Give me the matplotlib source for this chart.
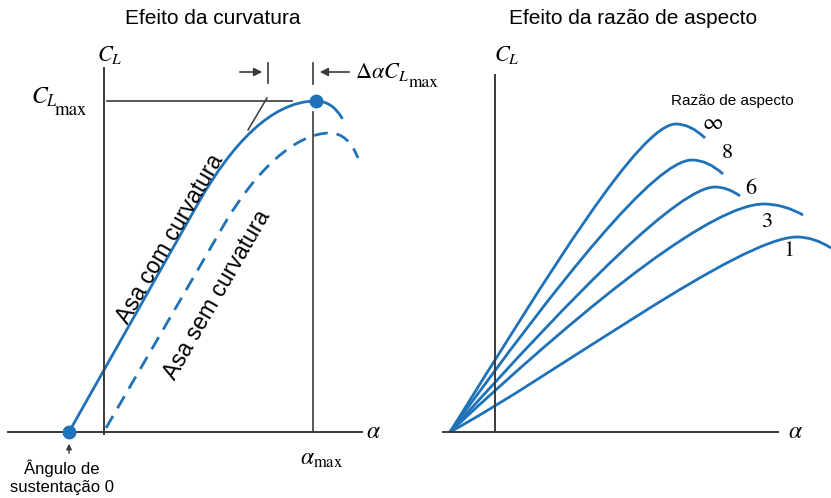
import matplotlib
matplotlib.use('Agg')
import matplotlib.pyplot as plt
from matplotlib.path import Path
from matplotlib.patches import PathPatch

plt.rcParams['mathtext.fontset'] = 'stix'
plt.rcParams['font.family'] = ['Liberation Sans', 'DejaVu Sans']

BLUE = '#1f72b8'
AXC = '#3a3a3a'

# left panel: lift curves drawn as a straight run followed by bezier segments
# (points in figure pixels, y grows downward)
with_camber = [(69, 432), (200, 200), (230, 148), (270, 101), (316, 101), (332, 101), (342, 118)]
without_camber = [(106, 428), (225, 223), (255, 172), (295, 133), (330, 133), (348, 133), (358, 158)]
stall_point = (316, 101)
zero_lift_point = (69, 432)

# right panel: one curve per aspect ratio, cubic to the peak then a quadratic fall-off
ar_labels = ['$\\infty$', '8', '6', '3', '1']
ar_origin = (450, 432)
ar_ctrl1 = [(550, 272), (560, 280), (580, 287), (600, 292), (555, 375)]
ar_ctrl2 = [(640, 124), (655, 160), (680, 187), (715, 204), (740, 237)]
ar_peak = [(676, 124), (692, 160), (715, 187), (764, 204), (797, 237)]
ar_end = [(705, 138), (723, 174), (740, 196), (803, 215), (831, 248)]
ar_label_pos = [(712, 124), (727, 153), (751, 189), (767, 222), (789, 251)]

fig = plt.figure(figsize=(8.31, 4.98), dpi=100)
ax = fig.add_axes([0, 0, 1, 1])
ax.set_xlim(0, 831)
ax.set_ylim(498, 0)
ax.axis('off')


def lift_path(pts):
    codes = [Path.MOVETO, Path.LINETO, Path.CURVE4, Path.CURVE4, Path.CURVE4,
             Path.CURVE3, Path.CURVE3]
    return Path(pts, codes)


def serif(x, y, s, size, **kw):
    ax.text(x, y, s, fontsize=size, family='STIXGeneral', **kw)


# ---- left panel: camber effect ----
ax.text(213, 18, 'Efeito da curvatura', fontsize=15, ha='center', va='center')
ax.plot([8, 362], [432, 432], color=AXC, lw=1.4)
ax.plot([104, 104], [68, 434], color=AXC, lw=1.4)
ax.plot([107, 292], [101, 101], color=AXC, lw=1.2)
ax.plot([313, 313], [63, 84], color=AXC, lw=1.2)
ax.plot([313, 313], [112, 432], color=AXC, lw=1.2)
ax.plot([268, 268], [63, 83], color=AXC, lw=1.2)
ax.plot([248, 267], [130, 98], color=AXC, lw=1.1)

ax.annotate('', xy=(265, 72), xytext=(237, 72),
            arrowprops=dict(arrowstyle='-|>', color=AXC, lw=1.2, mutation_scale=12))
ax.annotate('', xy=(317, 72), xytext=(352, 72),
            arrowprops=dict(arrowstyle='-|>', color=AXC, lw=1.2, mutation_scale=12))

ax.add_patch(PathPatch(lift_path(with_camber), fc='none', ec=BLUE, lw=2.0,
                       capstyle='round'))
ax.add_patch(PathPatch(lift_path(without_camber), fc='none', ec=BLUE, lw=2.0,
                       linestyle=(0, (5, 3.2))))
ax.plot(*stall_point, 'o', color=BLUE, ms=9, zorder=5)
ax.plot(*zero_lift_point, 'o', color=BLUE, ms=9, zorder=5)

ax.text(110, 55, '$C_L$', fontsize=16, ha='center', va='center')
ax.text(31, 104, '$C_L$', fontsize=17, ha='left', va='baseline')
serif(55, 115, 'max', 13.5, ha='left', va='baseline')
ax.text(355, 78, '$\\Delta\\alpha C_L$', fontsize=16, ha='left', va='baseline')
serif(409, 87, 'max', 12.5, ha='left', va='baseline')
ax.text(373, 432, '$\\alpha$', fontsize=17, ha='center', va='center')
ax.text(322, 459, '$\\alpha_{\\mathrm{max}}$', fontsize=17, ha='center', va='center')

ax.text(170, 239, 'Asa com curvatura', fontsize=16.5, rotation=60,
        ha='center', va='center', rotation_mode='anchor')
ax.text(217, 295, 'Asa sem curvatura', fontsize=16.5, rotation=60,
        ha='center', va='center', rotation_mode='anchor')

ax.annotate('', xy=(69, 441), xytext=(69, 456),
            arrowprops=dict(arrowstyle='-|>', color=AXC, lw=1.0, mutation_scale=8))
ax.text(62, 477, 'Ângulo de\nsustentação 0', fontsize=12, ha='center', va='center',
        linespacing=1.25)

# ---- right panel: aspect ratio effect ----
ax.text(633, 18, 'Efeito da razão de aspecto', fontsize=15, ha='center', va='center')
ax.plot([443, 778], [432, 432], color=AXC, lw=1.4)
ax.plot([495, 495], [75, 432], color=AXC, lw=1.4)
ax.text(507, 55, '$C_L$', fontsize=16, ha='center', va='center')
ax.text(795, 432, '$\\alpha$', fontsize=17, ha='center', va='center')
ax.text(732, 101, 'Razão de aspecto', fontsize=11, ha='center', va='center')

for i, lab in enumerate(ar_labels):
    px, py = ar_peak[i]
    ex, ey = ar_end[i]
    pts = [ar_origin, ar_ctrl1[i], ar_ctrl2[i], ar_peak[i], ((px + ex) / 2, py), ar_end[i]]
    codes = [Path.MOVETO, Path.CURVE4, Path.CURVE4, Path.CURVE4, Path.CURVE3, Path.CURVE3]
    ax.add_patch(PathPatch(Path(pts, codes), fc='none', ec=BLUE, lw=2.0))
    ax.text(*ar_label_pos[i], lab, fontsize=16, ha='center', va='center',
            family='STIXGeneral')

fig.savefig('out.png', dpi=100)
